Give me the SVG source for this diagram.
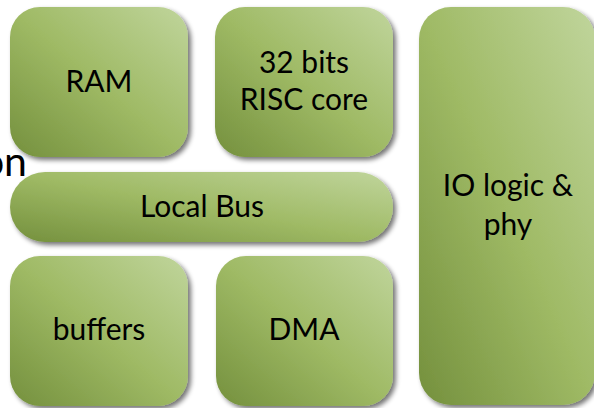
<svg xmlns="http://www.w3.org/2000/svg" width="594" height="408" viewBox="0 0 594 408">
  <defs>
    <linearGradient id="green" x1="0" y1="1" x2="1" y2="0">
      <stop offset="0" stop-color="#74903d"/>
      <stop offset="0.5" stop-color="#9fba65"/>
      <stop offset="1" stop-color="#c0d59c"/>
    </linearGradient>
    <filter id="shadow" x="-10%" y="-10%" width="125%" height="125%">
      <feGaussianBlur in="SourceAlpha" stdDeviation="2.5"/>
      <feOffset dx="3" dy="3" result="b"/>
      <feComponentTransfer><feFuncA type="linear" slope="0.55"/></feComponentTransfer>
      <feMerge><feMergeNode/><feMergeNode in="SourceGraphic"/></feMerge>
    </filter>
    <style>
      .box { fill: url(#green); filter: url(#shadow); }
      .lbl { font-family: Lato, "Open Sans", sans-serif; font-size: 30px; fill: #000; text-anchor: middle; }
    </style>
  </defs>
  <rect width="594" height="408" fill="#ffffff"/>

  <!-- word tail running in from the left, partly under the bus -->
  <text x="27" y="176" font-family="Lato, 'Open Sans', sans-serif" font-size="41" text-anchor="end" fill="#000">on</text>

  <g id="ram">
    <rect class="box" x="10" y="7" width="178" height="150" rx="30"/>
    <text class="lbl" x="99" y="92">RAM</text>
  </g>
  <g id="risc">
    <rect class="box" x="215" y="7" width="178" height="150" rx="30"/>
    <text class="lbl" x="304" y="73">32 bits</text>
    <text class="lbl" x="304" y="110">RISC core</text>
  </g>
  <g id="io">
    <rect class="box" x="419" y="7" width="176" height="398" rx="32"/>
    <text class="lbl" x="508" y="196">IO logic &amp;</text>
    <text class="lbl" x="508" y="235">phy</text>
  </g>
  <g id="bus">
    <rect class="box" x="10" y="172" width="383" height="70" rx="35"/>
    <text class="lbl" x="202" y="217">Local Bus</text>
  </g>
  <g id="buffers">
    <rect class="box" x="10" y="256" width="178" height="150" rx="30"/>
    <text class="lbl" x="99" y="340">buffers</text>
  </g>
  <g id="dma">
    <rect class="box" x="216" y="256" width="177" height="150" rx="30"/>
    <text class="lbl" x="304" y="340">DMA</text>
  </g>
  <g id="connectors"/>
</svg>
